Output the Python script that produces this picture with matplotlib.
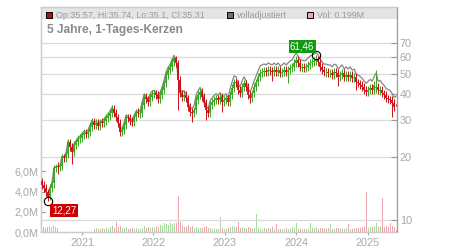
import numpy as np
import pandas as pd
import matplotlib
matplotlib.use("Agg")
import matplotlib.pyplot as plt
import matplotlib.dates as mdates
from matplotlib.patches import Rectangle
from matplotlib.ticker import NullLocator

plt.rcParams['font.family'] = ['Liberation Sans', 'DejaVu Sans']

close = [14.7, 14.2, 13.6, 12.7, 14.2, 15.0, 17.7, 17.9, 17.9, 18.1,
         20.0, 19.8, 20.7, 23.6, 22.4, 21.1, 22.9, 23.6, 24.4, 24.7,
         25.5, 26.1, 25.8, 26.4, 27.9, 29.4, 28.5, 29.1, 28.2, 29.1,
         29.1, 29.8, 30.8, 31.5, 32.5, 34.0, 32.5, 31.1, 29.1, 26.4,
         27.0, 28.5, 31.1, 30.8, 29.8, 29.4, 31.1, 32.5, 32.5, 32.5,
         35.5, 38.8, 37.9, 36.7, 38.8, 40.1, 40.5, 39.6, 37.9, 39.6,
         41.9, 45.2, 49.5, 52.2, 54.0, 57.0, 59.6, 56.4, 46.8, 40.5,
         38.8, 39.6, 38.3, 34.7, 32.9, 32.5, 33.6, 37.5, 39.6, 41.0,
         38.8, 36.3, 33.6, 32.5, 35.5, 36.7, 37.5, 38.3, 37.5, 38.8,
         36.7, 37.5, 38.3, 36.7, 39.6, 42.8, 45.7, 45.2, 41.9, 40.5,
         43.3, 45.2, 43.3, 39.6, 38.3, 40.5, 43.3, 45.7, 48.4, 50.6,
         51.1, 51.7, 51.1, 52.2, 51.7, 51.1, 52.2, 51.1, 52.2, 50.6,
         51.1, 52.2, 51.1, 52.2, 53.4, 54.0, 56.4, 58.3, 56.4, 54.0,
         54.0, 53.4, 54.0, 55.2, 56.4, 57.0, 57.7, 58.3, 57.0, 54.0,
         52.2, 51.1, 51.1, 50.6, 50.6, 49.5, 51.1, 50.6, 48.4, 49.5,
         50.6, 48.4, 49.5, 48.4, 49.5, 47.8, 48.4, 45.7, 45.2, 44.2,
         43.3, 41.9, 41.0, 41.9, 42.8, 41.9, 44.2, 43.3, 41.9, 41.9,
         40.5, 39.6, 38.3, 37.9, 37.5, 36.3, 34.7, 35.31]

open_ = [15.3, 14.7, 14.2, 13.6, 12.7, 14.2, 15.0, 17.7, 18.2, 17.9,
         18.1, 20.0, 19.8, 20.7, 23.6, 22.4, 21.1, 22.9, 23.6, 24.5,
         24.7, 25.5, 26.1, 25.8, 26.4, 27.9, 29.4, 28.5, 29.1, 28.2,
         29.4, 29.1, 29.8, 30.8, 31.5, 32.5, 34.0, 32.5, 31.1, 29.1,
         26.4, 27.0, 28.5, 31.1, 30.8, 29.8, 29.4, 31.1, 32.9, 32.3,
         32.5, 35.5, 38.8, 37.9, 36.7, 38.8, 40.1, 40.5, 39.6, 37.9,
         39.6, 41.9, 45.2, 49.5, 52.2, 54.0, 57.0, 59.6, 56.4, 46.8,
         40.5, 38.8, 39.6, 38.3, 34.7, 32.9, 32.5, 33.6, 37.5, 39.6,
         41.0, 38.8, 36.3, 33.6, 32.5, 35.5, 36.7, 37.5, 38.3, 37.5,
         38.8, 36.7, 37.5, 38.3, 36.7, 39.6, 42.8, 45.7, 45.2, 41.9,
         40.5, 43.3, 45.2, 43.3, 39.6, 38.3, 40.5, 43.3, 45.7, 48.4,
         50.6, 51.1, 51.7, 51.1, 52.2, 51.7, 51.1, 52.2, 51.1, 52.2,
         50.6, 51.1, 52.2, 51.1, 52.2, 53.4, 54.0, 56.4, 58.3, 56.4,
         53.4, 54.0, 53.4, 54.0, 55.2, 56.4, 57.0, 57.7, 58.3, 57.0,
         54.0, 52.2, 50.8, 51.1, 50.4, 50.6, 49.5, 51.1, 50.6, 48.4,
         49.5, 50.6, 48.4, 49.5, 48.4, 49.5, 47.8, 48.4, 45.7, 45.2,
         44.2, 43.3, 41.9, 41.0, 41.9, 42.8, 41.9, 42.6, 43.3, 41.6,
         41.9, 40.5, 39.6, 38.3, 37.9, 37.5, 36.3, 35.57]

high = [15.9, 15.3, 14.8, 14.1, 14.8, 15.6, 18.4, 18.6, 18.9, 18.8,
        20.8, 20.8, 21.5, 24.5, 24.5, 23.3, 23.8, 24.5, 25.4, 25.7,
        26.5, 27.1, 27.1, 27.5, 29.0, 30.6, 30.6, 30.3, 30.3, 30.3,
        30.6, 31.0, 32.0, 32.8, 33.8, 35.4, 35.4, 33.8, 32.3, 30.3,
        28.1, 29.6, 32.3, 32.3, 32.0, 31.0, 32.3, 33.8, 34.2, 33.8,
        36.9, 40.4, 40.4, 39.4, 40.4, 41.7, 42.1, 42.1, 41.2, 41.2,
        43.6, 47.0, 51.5, 54.3, 56.2, 59.3, 61.0, 61.0, 58.0, 48.7,
        42.1, 41.2, 41.2, 39.8, 36.1, 34.2, 34.9, 39.0, 41.2, 42.8,
        42.6, 40.4, 37.8, 34.9, 36.9, 38.2, 39.0, 39.8, 39.8, 40.4,
        40.4, 39.0, 39.8, 39.8, 41.2, 44.5, 47.5, 47.5, 47.0, 43.6,
        45.0, 47.0, 47.0, 45.0, 41.2, 42.1, 45.0, 47.5, 50.3, 52.6,
        53.1, 53.8, 53.8, 54.3, 54.3, 53.8, 54.3, 54.3, 54.3, 54.3,
        53.1, 54.3, 54.3, 54.3, 55.5, 56.2, 58.7, 60.6, 60.6, 58.7,
        56.2, 56.2, 56.2, 57.4, 58.7, 59.3, 60.0, 61.46, 60.6, 59.3,
        56.2, 54.3, 53.1, 53.1, 52.6, 52.6, 53.1, 53.1, 52.6, 51.5,
        52.6, 52.6, 51.5, 51.5, 51.5, 51.5, 50.3, 50.3, 47.5, 47.0,
        46.0, 45.0, 43.6, 43.6, 44.5, 44.5, 46.0, 52.2, 45.0, 43.6,
        43.6, 42.1, 41.2, 39.8, 39.4, 39.0, 37.8, 35.74]

low = [14.0, 13.6, 13.0, 12.27, 12.4, 13.6, 14.3, 16.9, 16.6, 17.1,
       17.3, 18.9, 18.9, 19.8, 21.4, 18.6, 20.2, 21.9, 22.5, 23.4,
       23.6, 24.4, 24.6, 24.6, 25.2, 26.6, 27.2, 27.2, 26.9, 26.9,
       27.8, 27.8, 28.5, 29.4, 30.1, 31.0, 31.0, 29.7, 27.8, 25.2,
       25.2, 25.8, 27.2, 29.4, 28.5, 28.1, 28.1, 29.7, 31.0, 30.8,
       31.0, 33.9, 36.2, 35.0, 35.0, 37.1, 38.3, 37.8, 36.2, 36.2,
       37.8, 40.0, 43.2, 47.3, 49.9, 51.6, 54.4, 53.9, 33.6, 38.7,
       37.1, 37.1, 36.6, 33.1, 31.4, 29.4, 31.0, 32.1, 35.8, 37.8,
       37.1, 34.7, 30.1, 31.0, 31.0, 33.9, 35.0, 35.8, 35.8, 35.8,
       32.9, 35.0, 35.8, 35.0, 35.0, 37.8, 40.9, 43.2, 40.0, 38.7,
       38.7, 41.4, 41.4, 37.8, 36.3, 36.6, 38.7, 41.4, 43.6, 46.2,
       48.3, 48.8, 48.8, 48.8, 49.4, 46.0, 48.8, 48.8, 48.8, 48.3,
       48.3, 48.8, 48.8, 45.2, 49.9, 51.0, 51.6, 53.9, 53.9, 51.6,
       51.0, 51.0, 51.0, 51.6, 52.7, 53.9, 54.4, 55.1, 54.4, 51.6,
       49.9, 48.8, 48.5, 48.3, 48.1, 47.3, 47.3, 48.3, 44.0, 46.2,
       47.3, 46.2, 46.2, 46.2, 46.2, 45.6, 45.6, 41.9, 43.2, 42.2,
       41.4, 40.0, 39.2, 39.2, 40.0, 40.0, 40.0, 40.7, 40.0, 39.7,
       38.7, 37.8, 36.6, 36.2, 35.8, 31.2, 33.1, 35.1]

# volladjustierter Kurs (graue Linie)
adjusted = [14.8, 14.3, 13.7, 12.8, 14.3, 15.1, 17.8, 18.0, 18.0, 18.2,
            20.2, 20.0, 20.9, 23.9, 22.7, 21.4, 23.2, 23.9, 24.8, 25.1,
            26.0, 26.6, 26.3, 26.9, 28.5, 30.0, 29.1, 29.7, 28.8, 29.7,
            29.7, 30.4, 31.4, 32.1, 33.2, 34.7, 33.2, 31.7, 29.7, 26.9,
            27.5, 29.1, 31.7, 31.4, 30.4, 30.0, 31.7, 33.2, 33.2, 33.2,
            36.6, 40.0, 39.0, 37.8, 40.0, 41.3, 41.7, 40.8, 39.0, 40.8,
            43.2, 46.6, 51.0, 53.8, 55.6, 58.7, 61.4, 58.1, 48.2, 42.5,
            40.7, 41.6, 40.2, 36.4, 34.5, 34.1, 35.3, 39.4, 41.6, 43.1,
            40.7, 38.1, 35.3, 34.1, 37.3, 38.5, 39.4, 40.2, 39.4, 40.7,
            38.5, 39.4, 40.2, 38.5, 42.4, 45.8, 48.9, 48.4, 44.8, 43.3,
            46.3, 48.4, 46.3, 42.4, 41.0, 43.3, 46.3, 48.9, 51.8, 54.6,
            55.2, 55.8, 55.2, 56.4, 55.8, 55.2, 56.4, 55.2, 56.4, 54.6,
            55.2, 56.4, 55.2, 56.4, 57.7, 58.3, 60.9, 63.0, 60.9, 58.3,
            58.3, 57.7, 58.3, 59.6, 60.9, 61.6, 62.3, 63.0, 61.6, 58.9,
            56.9, 55.7, 55.7, 55.2, 55.2, 54.0, 55.7, 55.2, 52.8, 54.0,
            55.2, 52.8, 54.0, 52.8, 54.0, 52.1, 52.8, 49.8, 49.3, 48.6,
            47.6, 46.1, 45.1, 46.1, 47.1, 46.1, 48.6, 50.5, 46.1, 46.5,
            45.0, 44.0, 42.5, 42.1, 41.6, 40.3, 38.5, 39.2]

# Volumen in Mio. Stück
volume = [0.6, 0.5, 0.4, 0.5, 0.6, 0.5, 0.7, 0.5, 0.4, 0.5,
          1.1, 0.4, 0.5, 0.85, 0.5, 0.6, 0.4, 0.3, 0.4, 0.3,
          0.5, 0.3, 0.4, 0.3, 0.4, 0.5, 0.3, 0.4, 0.3, 0.3,
          0.4, 0.3, 0.4, 0.3, 0.5, 0.6, 0.4, 0.95, 0.5, 0.6,
          0.4, 0.4, 0.5, 0.3, 0.3, 0.4, 0.3, 0.4, 0.3, 0.3,
          0.4, 0.6, 0.4, 0.5, 0.4, 0.5, 0.4, 0.6, 0.5, 0.7,
          0.6, 0.9, 0.8, 0.7, 0.9, 0.8, 0.9, 0.9, 3.6, 1.0,
          0.6, 0.5, 0.5, 0.7, 0.5, 0.6, 0.4, 0.5, 0.4, 0.4,
          0.4, 0.5, 0.6, 0.4, 0.4, 0.3, 0.3, 0.3, 0.3, 1.5,
          0.4, 0.3, 0.3, 0.4, 0.5, 0.6, 0.5, 0.5, 1.0, 0.4,
          0.5, 0.4, 0.3, 0.5, 0.4, 0.3, 0.4, 1.8, 0.4, 0.3,
          0.3, 0.4, 0.3, 0.4, 0.3, 0.5, 0.3, 0.8, 0.3, 0.3,
          0.3, 0.3, 0.4, 0.3, 0.3, 0.5, 0.4, 0.9, 0.3, 0.3,
          0.3, 0.3, 0.3, 0.3, 0.9, 0.4, 0.4, 0.5, 0.3, 0.4,
          0.4, 0.3, 0.3, 0.4, 0.8, 0.3, 0.3, 0.4, 0.4, 0.3,
          0.3, 0.3, 0.4, 0.8, 0.3, 0.3, 0.3, 0.4, 0.4, 0.4,
          0.5, 0.5, 4.0, 0.4, 0.5, 0.5, 0.6, 0.9, 0.5, 0.6,
          3.4, 0.5, 0.6, 0.5, 0.9, 0.6, 0.5, 0.199]

price_ticks = [10, 20, 30, 40, 50, 60, 70]
vol_ticks = [0, 2, 4, 6]
vol_labels = ["0,0M", "2,0M", "4,0M", "6,0M"]

dates = pd.date_range("2020-06-09", "2025-05-28", periods=len(close))
o = np.array(open_)
c = np.array(close)
up = c >= o
candle_col = np.where(up, "#3aa524", "#c8101a")
vol_col = np.where(up, "#a6dc9c", "#f2a4ae")

fig = plt.figure(figsize=(4.5, 2.5), dpi=100)
ax = fig.add_axes([41 / 450, 18 / 250, 356 / 450, 225 / 250])
ax2 = ax.twinx()

# Kopfzeile (grauer Balken)
ax.add_patch(Rectangle((0, 213 / 225), 1, 12 / 225, transform=ax.transAxes,
                       fc="#e4e4e4", ec="none", zorder=0))

# Volumen
ax.bar(dates, volume, width=5, color=vol_col, lw=0, zorder=1)
ax.set_ylim(0, 22.3)
ax.set_xlim(pd.Timestamp("2020-06-04"), pd.Timestamp("2025-06-01"))
ax.set_yticks(vol_ticks)
ax.set_yticklabels(vol_labels)
ax.tick_params(axis="y", direction="in", length=3, color="#999999",
               labelcolor="#a8a8a8", labelsize=7.8, pad=1.5)
ax.xaxis.set_major_locator(mdates.YearLocator())
ax.xaxis.set_major_formatter(mdates.DateFormatter("%Y"))
ax.tick_params(axis="x", direction="out", length=2.5, color="#aaaaaa",
               labelcolor="#a8a8a8", labelsize=7.8, pad=2)

# Kurs
ax2.set_yscale("log")
ax2.set_ylim(8.76, 104.5)
ax2.plot(dates, adjusted, color="#858585", lw=0.9, zorder=2)
ax2.vlines(dates, low, high, colors=candle_col, lw=0.7, zorder=3)
ax2.vlines(dates, open_, close, colors=candle_col, lw=1.3, zorder=3)
ax2.set_yticks(price_ticks)
ax2.set_yticklabels([str(t) for t in price_ticks])
ax2.yaxis.set_minor_locator(NullLocator())
ax2.tick_params(axis="y", direction="in", length=4, color="#999999",
                labelcolor="#a8a8a8", labelsize=7.8, pad=2)
ax2.grid(True, axis="both", color="#dadada", lw=0.9, zorder=0)
ax2.set_axisbelow(True)

for a in (ax, ax2):
    for s in a.spines.values():
        s.set_color("#cccccc")
        s.set_linewidth(0.9)
ax2.spines["right"].set_color("#a0a0a0")

# Tief und Hoch markieren
i_lo = int(np.argmin(low))
i_hi = int(np.argmax(high))
ax2.plot(dates[i_lo], low[i_lo], "o", mfc="none", mec="black", ms=6, mew=0.8, zorder=5)
ax2.plot(dates[i_hi], high[i_hi], "o", mfc="none", mec="black", ms=6, mew=0.8, zorder=5)
ax2.annotate(f"{low[i_lo]:.2f}".replace(".", ","), (dates[i_lo], low[i_lo]),
             xytext=(16, -9), textcoords="offset pixels", ha="center", va="center",
             color="white", fontsize=7,
             bbox=dict(boxstyle="square,pad=0.15", fc="#cc0000", ec="none"), zorder=6)
ax2.annotate(f"{high[i_hi]:.2f}".replace(".", ","), (dates[i_hi], high[i_hi]),
             xytext=(-14, 9), textcoords="offset pixels", ha="center", va="center",
             color="white", fontsize=7,
             bbox=dict(boxstyle="square,pad=0.15", fc="#119a11", ec="none"), zorder=6)

# Titel und Legende
fig.text(47 / 450, 1 - 30 / 250, "5 Jahre, 1-Tages-Kerzen", fontsize=8.6,
         fontweight="bold", color="#8a8a8a", va="center", ha="left")

def legend_item(x, color, text):
    fig.add_artist(Rectangle((x / 450, 232 / 250), 6 / 450, 6 / 250,
                             transform=fig.transFigure, fc=color, ec="black", lw=0.7))
    fig.text((x + 10) / 450, 1 - 15 / 250, text, fontsize=6.4, color="#9a9a9a",
             va="center", ha="left")

legend_item(46, "#b01010",
            f"Op:{open_[-1]:g}, Hi:{high[-1]:g}, Lo:{low[-1]:g}, Cl:{close[-1]:g}")
legend_item(227, "#707070", "volladjustiert")
legend_item(307, "#f2a4ae", f"Vol: {volume[-1]:.3f}M")

fig.savefig("out.png", dpi=100)
